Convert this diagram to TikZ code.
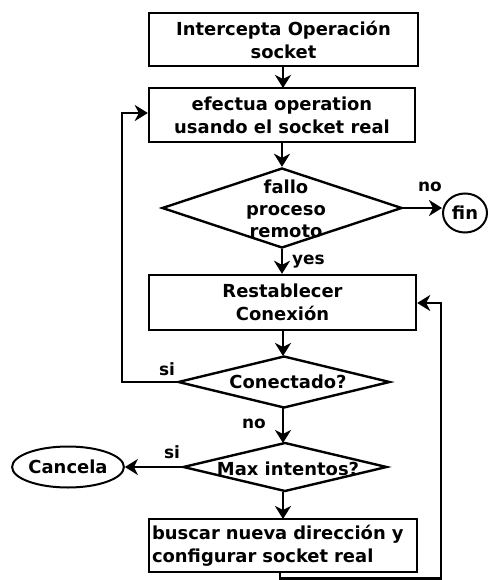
\documentclass[tikz,border=0pt]{standalone}
\usepackage{fontspec}
\setmainfont{DejaVu Sans}
\usetikzlibrary{shapes.geometric,arrows.meta}
\tikzset{
  every node/.style={font=\fontsize{18}{23}\selectfont\bfseries, inner sep=0pt},
  boxnode/.style={draw, line width=2.4bp, rectangle, align=center},
  dia/.style={draw, line width=2.4bp, diamond},
  oval/.style={draw, line width=2bp, ellipse},
  conn/.style={line width=2.4bp, -{Stealth[length=13bp,width=16bp,inset=4bp]}},
  lab/.style={font=\fontsize{17}{20}\selectfont\bfseries}
}
\begin{document}
\begin{tikzpicture}[x=1bp,y=-1bp]
\useasboundingbox (0,0) rectangle (488,580);
\node[boxnode, minimum width=269bp, minimum height=53bp] (b1) at (283.5,39.5) {Intercepta Operación\\socket};
\node[boxnode, minimum width=266bp, minimum height=54bp] (b2) at (282,115) {efectua operation\\usando el socket real};
\node[dia, minimum width=240bp, minimum height=80bp] (d1) at (282,208) {};
\node[font=\fontsize{18}{22}\selectfont\bfseries, align=center] (d1t) at (286,209) {fallo\\proceso\\remoto};
\node[oval, minimum width=44bp, minimum height=39bp] (fin) at (465,213) {fin};
\node[boxnode, minimum width=267bp, minimum height=55bp] (b3) at (282.5,302.5) {Restablecer\\Conexión};
\node[dia, minimum width=212bp, minimum height=52bp] (d2) at (284,382) {};
\node (d2t) at (288,382) {Conectado?};
\node[dia, minimum width=204bp, minimum height=49bp] (d3) at (285,467) {};
\node (d3t) at (288,469) {Max intentos?};
\node[oval, minimum width=110bp, minimum height=41bp] (can) at (68,467) {Cancela};
\node[boxnode, minimum width=268bp, minimum height=53bp, text width=262bp, align=left] (b4) at (283,545.5) {buscar nueva dirección y\\configurar socket real};

\coordinate (l1) at (122,382);
\coordinate (l2) at (122,113);
\coordinate (r0) at (280,578.5);
\coordinate (r1) at (441,578.5);
\coordinate (r2) at (441,303);

\draw[conn] (b1.south -| 283,0) -- (283,88);
\draw[conn] (282,142) -- (d1.north);
\draw[conn] (d1.east) -- (fin.west |- d1.east);
\draw[conn] (d1.south) -- (b3.north -| d1.south);
\draw[conn] (283,330) -- (283,356);
\draw[conn] (283,408) -- (283,443);
\draw[conn] (283,492) -- (283,519);
\draw[conn] (d3.west) -- (can.east);
\draw[conn] (d2.west) -- (l1) -- (l2) -- (b2.west |- l2);
\draw[conn] (b4.south -| r0) -- (r0) -- (r1) -- (r2) -- (b3.east |- r2);

\node[lab] (nofin) at (430,187) {no};
\node[lab, anchor=west] (yes) at (292,262) {yes};
\node[lab] (si1) at (167,369) {si};
\node[lab] (no2) at (254,424) {no};
\node[lab] (si2) at (172,452) {si};
\end{tikzpicture}
\end{document}
